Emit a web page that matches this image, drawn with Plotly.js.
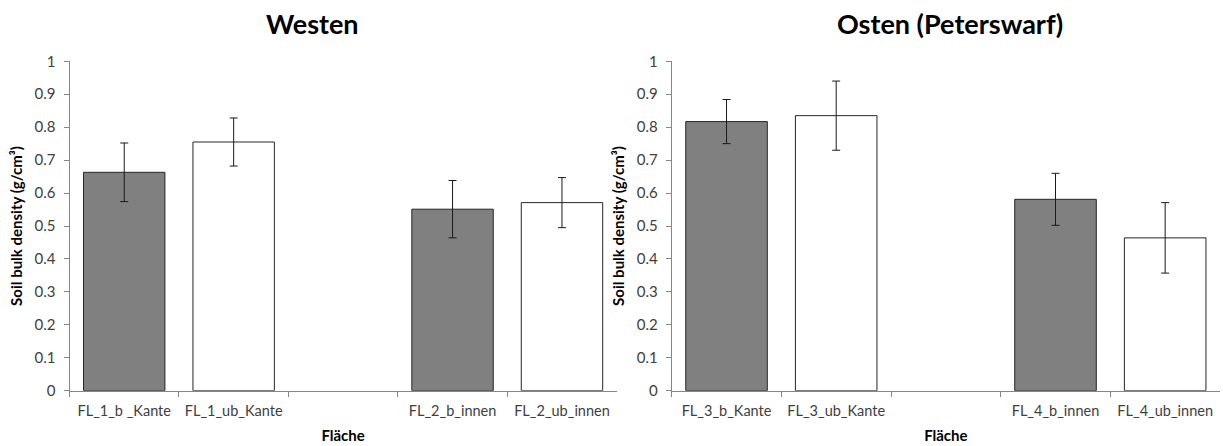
<!DOCTYPE html>
<html>
<head>
<meta charset="utf-8">
<script src="https://cdn.plot.ly/plotly-3.0.1.min.js"></script>
<style>html,body{margin:0;padding:0;background:#fff;}#chart{width:1223px;height:446px;}</style>
</head>
<body>
<div id="chart"></div>
<script>
// Data
var westCategories = ["FL_1_b _Kante", "FL_1_ub_Kante", " ", "FL_2_b_innen", "FL_2_ub_innen"];
var westValues = [0.663, 0.755, null, 0.551, 0.571];
var westErrors = [0.089, 0.073, null, 0.087, 0.076];

var eastCategories = ["FL_3_b_Kante", "FL_3_ub_Kante", "  ", "FL_4_b_innen", "FL_4_ub_innen"];
var eastValues = [0.817, 0.835, null, 0.581, 0.464];
var eastErrors = [0.067, 0.105, null, 0.079, 0.107];

var barColors = ["#808080", "#ffffff", "#ffffff", "#808080", "#ffffff"];

var titles = ["Westen", "Osten (Peterswarf)"];
var yTitle = "Soil bulk density (g/cm³)";
var xTitle = "Fläche";

var FONT = "Lato, 'Open Sans', sans-serif";
var tickColor = "#404040";
var axisColor = "#868686";

function barTrace(cats, vals, errs, xa, ya) {
  return {
    type: "bar",
    x: cats, y: vals,
    xaxis: xa, yaxis: ya,
    marker: {color: barColors, line: {color: "#262626", width: 1}},
    error_y: {type: "data", array: errs, visible: true, color: "#1a1a1a", thickness: 1, width: 4},
    hoverinfo: "x+y",
    showlegend: false
  };
}

var data = [
  barTrace(westCategories, westValues, westErrors, "x", "y"),
  barTrace(eastCategories, eastValues, eastErrors, "x2", "y2")
];

function xAxis(domain, cats, anchor) {
  return {
    domain: domain, anchor: anchor,
    type: "category", categoryorder: "array", categoryarray: cats,
    range: [-0.5, 4.5],
    showline: true, linecolor: axisColor, linewidth: 1,
    ticks: "outside", ticklen: 5, tickcolor: axisColor, tickson: "boundaries",
    ticklabelstandoff: 7, tickangle: 0,
    showgrid: false, zeroline: false,
    tickfont: {family: FONT, size: 14.5, color: tickColor},
    title: {text: "<b>" + xTitle + "</b>", font: {family: FONT, size: 15, color: "#000"}, standoff: 12},
    fixedrange: true
  };
}
function yAxis(domain, anchor) {
  return {
    domain: domain, anchor: anchor,
    range: [0, 1], dtick: 0.1, tick0: 0,
    showline: true, linecolor: axisColor, linewidth: 1,
    ticks: "outside", ticklen: 5, tickcolor: axisColor,
    ticklabelstandoff: 5,
    showgrid: false, zeroline: false,
    tickfont: {family: FONT, size: 15, color: tickColor},
    title: {text: "<b>" + yTitle + "</b>", font: {family: FONT, size: 15, color: "#000"}, standoff: 8},
    fixedrange: true
  };
}

var W = 1223, H = 446;
var yDom = [(H - 390.7) / H, (H - 61.3) / H];

var layout = {
  width: W, height: H,
  margin: {l: 0, r: 0, t: 0, b: 0},
  paper_bgcolor: "#fff", plot_bgcolor: "#fff",
  bargap: 0.256,
  xaxis: xAxis([69.5 / W, 616.7 / W], westCategories, "y"),
  yaxis: yAxis(yDom, "x"),
  xaxis2: xAxis([671.7 / W, 1220 / W], eastCategories, "y2"),
  yaxis2: yAxis(yDom, "x2"),
  annotations: [
    {text: "<b>" + titles[0] + "</b>", x: 312 / W, y: 1 - 23 / H, xref: "paper", yref: "paper",
     xanchor: "center", yanchor: "middle", showarrow: false, font: {family: FONT, size: 27, color: "#000"}},
    {text: "<b>" + titles[1] + "</b>", x: 950 / W, y: 1 - 23 / H, xref: "paper", yref: "paper",
     xanchor: "center", yanchor: "middle", showarrow: false, font: {family: FONT, size: 27, color: "#000"}}
  ]
};

Plotly.newPlot("chart", data, layout, {displayModeBar: false, staticPlot: true});
</script>
</body>
</html>
